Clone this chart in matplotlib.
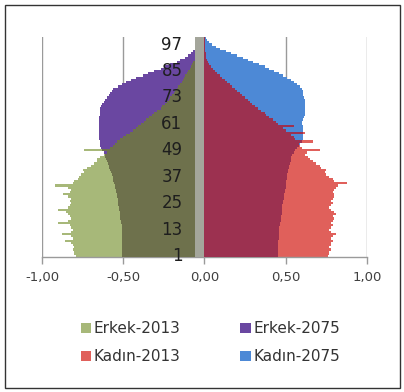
import numpy as np
import matplotlib
matplotlib.use("Agg")
import matplotlib.pyplot as plt
from matplotlib.patches import Rectangle, Patch

# Single-year ages 1..100
ages = list(range(1, 101))
age_tick_labels = [1, 13, 25, 37, 49, 61, 73, 85, 97]
x_ticks = [-1.0, -0.5, 0.0, 0.5, 1.0]

# Share of population (%) per single year of age
erkek_2013 = [
    0.79, 0.80, 0.80, 0.81, 0.80, 0.81, 0.82, 0.86, 0.81, 0.82,
    0.88, 0.82, 0.81, 0.82, 0.83, 0.90, 0.84, 0.82, 0.83, 0.84,
    0.85, 0.90, 0.84, 0.83, 0.82, 0.83, 0.82, 0.84, 0.87, 0.83,
    0.82, 0.84, 0.92, 0.81, 0.80, 0.78, 0.77, 0.76, 0.74, 0.75,
    0.72, 0.70, 0.68, 0.66, 0.66, 0.64, 0.62, 0.60, 0.74, 0.58,
    0.56, 0.55, 0.54, 0.52, 0.50, 0.48, 0.46, 0.44, 0.42, 0.41,
    0.39, 0.37, 0.36, 0.34, 0.32, 0.31, 0.29, 0.27, 0.26, 0.24,
    0.23, 0.22, 0.21, 0.20, 0.19, 0.18, 0.17, 0.16, 0.15, 0.14,
    0.13, 0.125, 0.12, 0.11, 0.10, 0.09, 0.085, 0.075, 0.07, 0.06,
    0.055, 0.05, 0.045, 0.04, 0.03, 0.025, 0.015, 0.01, 0.008, 0.005,
]
erkek_2075 = [
    0.505, 0.505, 0.51, 0.51, 0.51, 0.51, 0.51, 0.51, 0.51, 0.51,
    0.51, 0.51, 0.51, 0.51, 0.51, 0.515, 0.515, 0.52, 0.52, 0.52,
    0.52, 0.525, 0.525, 0.53, 0.53, 0.535, 0.535, 0.54, 0.54, 0.545,
    0.545, 0.55, 0.55, 0.555, 0.56, 0.56, 0.565, 0.57, 0.575, 0.58,
    0.585, 0.59, 0.595, 0.60, 0.605, 0.61, 0.615, 0.62, 0.63, 0.635,
    0.64, 0.645, 0.645, 0.65, 0.65, 0.65, 0.65, 0.65, 0.65, 0.65,
    0.65, 0.65, 0.65, 0.65, 0.645, 0.645, 0.64, 0.64, 0.635, 0.63,
    0.62, 0.61, 0.60, 0.59, 0.58, 0.57, 0.56, 0.53, 0.51, 0.48,
    0.45, 0.42, 0.38, 0.35, 0.31, 0.27, 0.24, 0.21, 0.17, 0.15,
    0.12, 0.10, 0.085, 0.07, 0.06, 0.045, 0.03, 0.02, 0.012, 0.006,
]
kadin_2013 = [
    0.76, 0.77, 0.77, 0.78, 0.77, 0.78, 0.78, 0.79, 0.78, 0.79,
    0.81, 0.78, 0.77, 0.78, 0.79, 0.78, 0.79, 0.80, 0.79, 0.81,
    0.80, 0.78, 0.77, 0.78, 0.79, 0.78, 0.79, 0.80, 0.80, 0.79,
    0.80, 0.81, 0.82, 0.88, 0.80, 0.79, 0.77, 0.75, 0.74, 0.75,
    0.72, 0.71, 0.69, 0.67, 0.65, 0.64, 0.62, 0.63, 0.71, 0.60,
    0.59, 0.58, 0.67, 0.56, 0.55, 0.53, 0.62, 0.50, 0.485, 0.55,
    0.45, 0.44, 0.42, 0.40, 0.38, 0.37, 0.35, 0.33, 0.31, 0.29,
    0.28, 0.27, 0.25, 0.23, 0.22, 0.20, 0.19, 0.17, 0.16, 0.14,
    0.125, 0.11, 0.095, 0.08, 0.065, 0.05, 0.04, 0.03, 0.025, 0.018,
    0.012, 0.01, 0.008, 0.006, 0.005, 0.004, 0.003, 0.002, 0.001, 0.001,
]
kadin_2075 = [
    0.45, 0.45, 0.45, 0.455, 0.455, 0.455, 0.455, 0.455, 0.46, 0.46,
    0.46, 0.46, 0.46, 0.46, 0.465, 0.465, 0.47, 0.47, 0.47, 0.475,
    0.475, 0.48, 0.48, 0.48, 0.485, 0.485, 0.49, 0.49, 0.49, 0.495,
    0.495, 0.50, 0.50, 0.505, 0.505, 0.51, 0.51, 0.51, 0.515, 0.515,
    0.52, 0.52, 0.525, 0.53, 0.53, 0.535, 0.54, 0.55, 0.56, 0.57,
    0.58, 0.59, 0.60, 0.605, 0.61, 0.61, 0.61, 0.61, 0.61, 0.605,
    0.60, 0.60, 0.61, 0.615, 0.62, 0.62, 0.62, 0.62, 0.62, 0.62,
    0.62, 0.62, 0.615, 0.61, 0.61, 0.61, 0.60, 0.59, 0.57, 0.55,
    0.53, 0.51, 0.485, 0.46, 0.43, 0.40, 0.37, 0.335, 0.30, 0.27,
    0.235, 0.20, 0.165, 0.13, 0.095, 0.07, 0.045, 0.03, 0.015, 0.008,
]

series_names = ["Erkek-2013", "Erkek-2075", "Kadın-2013", "Kadın-2075"]
c_e13 = "#a7b879"
c_e75 = "#6a47a1"
c_e_both = "#6e714c"
c_k13 = "#e0605b"
c_k75 = "#4d89d6"
c_k_both = "#9c3150"
c_band = "#a4a69b"
c_grid = "#9a9a9a"

y = np.array(ages)
e13 = np.array(erkek_2013)
e75 = np.array(erkek_2075)
k13 = np.array(kadin_2013)
k75 = np.array(kadin_2075)

fig = plt.figure(figsize=(4.04, 3.92), dpi=100)
ax = fig.add_axes([0.104, 0.344, 0.804, 0.562])

bar_kw = dict(height=1.0, linewidth=0, antialiased=False)
# Men on the left (negative), women on the right
ax.barh(y, -e13, color=c_e13, zorder=2, **bar_kw)
ax.barh(y, -e75, color=c_e75, zorder=2, **bar_kw)
ax.barh(y, -np.minimum(e13, e75), color=c_e_both, zorder=3, **bar_kw)
ax.barh(y, k13, color=c_k13, zorder=2, **bar_kw)
ax.barh(y, k75, color=c_k75, zorder=2, **bar_kw)
ax.barh(y, np.minimum(k13, k75), color=c_k_both, zorder=3, **bar_kw)

# central label strip
ax.axvspan(-0.055, 0.0, color=c_band, lw=0, zorder=4)

ax.set_xlim(-1.0, 1.0)
ax.set_ylim(0.5, 100.5)

for xv in x_ticks:
    if xv != 0.0:
        ax.axvline(xv, color=c_grid, lw=1.0, zorder=1)

ax.set_xticks(x_ticks)
ax.set_xticklabels([f"{v:.2f}".replace(".", ",") for v in x_ticks],
                   fontsize=9.5, color="#404040")
ax.tick_params(axis="x", length=5, width=1, color=c_grid, pad=5)
ax.set_yticks([])

for s in ["top", "left", "right"]:
    ax.spines[s].set_visible(False)
ax.spines["bottom"].set_color(c_grid)
ax.spines["bottom"].set_linewidth(1.0)

for a in age_tick_labels:
    ax.text(-0.135, a, str(a), ha="right", va="center", fontsize=12,
            color="#1e1e1e", zorder=6)

handles = [Patch(facecolor=c, edgecolor="none") for c in (c_e13, c_k13, c_e75, c_k75)]
labels = [series_names[0], series_names[2], series_names[1], series_names[3]]
fig.legend(handles, labels, ncol=2, loc="upper left",
           bbox_to_anchor=(0.2, 0.18), frameon=False, fontsize=11,
           handlelength=0.7, handleheight=0.7, handletextpad=0.15,
           columnspacing=3.9, labelspacing=0.85, borderpad=0, borderaxespad=0,
           labelcolor="#333333")

fig.patches.append(Rectangle((0.012, 0.01), 0.978, 0.978, transform=fig.transFigure,
                             fill=False, edgecolor="#333333", lw=1.0))

fig.savefig("out.png", dpi=100, facecolor="white")
